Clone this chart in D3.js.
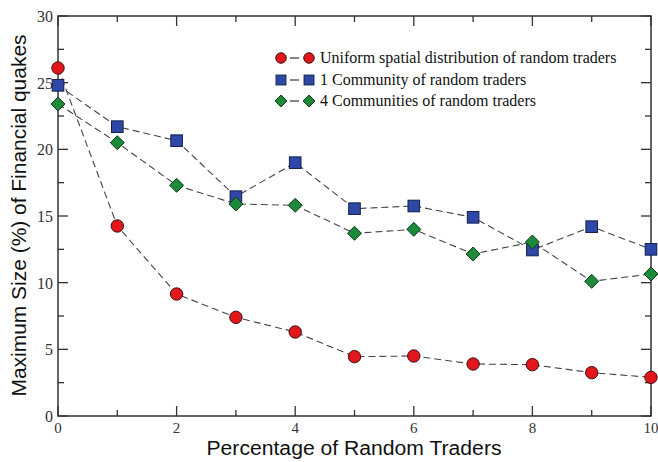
<!DOCTYPE html>
<html><head><meta charset="utf-8">
<script src="https://cdn.jsdelivr.net/npm/d3@7"></script>
<style>body{margin:0;background:#fff;}svg{display:block;}</style>
</head><body>
<script>
const xValues = [0,1,2,3,4,5,6,7,8,9,10];
const uniformValues = [26.1,14.25,9.15,7.4,6.3,4.45,4.5,3.9,3.85,3.25,2.9];
const oneCommunityValues = [24.8,21.7,20.65,16.45,19.0,15.55,15.75,14.9,12.45,14.2,12.5];
const fourCommunitiesValues = [23.4,20.5,17.3,15.9,15.8,13.7,14.0,12.15,13.05,10.1,10.65];
const seriesNames = ["Uniform spatial distribution of random traders","1 Community of random traders","4 Communities of random traders"];
const xTicks = [0,2,4,6,8,10];
const yTicks = [0,5,10,15,20,25,30];
const xTitle = "Percentage of Random Traders";
const yTitle = "Maximum Size (%) of Financial quakes";

const W=658,H=462;
const L=58,R=651,T=16,B=416;
const svg=d3.select("body").append("svg").attr("width",W).attr("height",H);
const x=d3.scaleLinear().domain([0,10]).range([L,R]);
const y=d3.scaleLinear().domain([0,30]).range([B,T]);

const axisColor="#333";
const g=svg.append("g").attr("stroke",axisColor).attr("stroke-width",1.3);
const xMinor=d3.range(0,10.01,1), yMinor=d3.range(0,30.01,2.5);
xMinor.forEach(v=>{const len=(v%2===0)?10:6;
  g.append("line").attr("x1",x(v)).attr("x2",x(v)).attr("y1",B).attr("y2",B-len);
  g.append("line").attr("x1",x(v)).attr("x2",x(v)).attr("y1",T).attr("y2",T+len);});
yMinor.forEach(v=>{const len=(v%5===0)?10:6;
  g.append("line").attr("y1",y(v)).attr("y2",y(v)).attr("x1",L).attr("x2",L+len);
  g.append("line").attr("y1",y(v)).attr("y2",y(v)).attr("x1",R).attr("x2",R-len);});
svg.append("rect").attr("x",L).attr("y",T).attr("width",R-L).attr("height",B-T)
  .attr("fill","none").attr("stroke",axisColor).attr("stroke-width",1.5);

const serif="'Liberation Serif','DejaVu Serif',serif";
svg.selectAll(".xt").data(xTicks).enter().append("text")
  .attr("x",d=>x(d)).attr("y",B+17).attr("text-anchor","middle")
  .attr("font-family",serif).attr("font-size",15).attr("fill","#333").text(d=>d);
svg.selectAll(".yt").data(yTicks).enter().append("text")
  .attr("x",L-5).attr("y",d=>y(d)+6).attr("text-anchor","end")
  .attr("font-family",serif).attr("font-size",16).attr("fill","#333").text(d=>d);

const sans="'Liberation Sans',Arial,sans-serif";
svg.append("text").attr("x",354).attr("y",455).attr("text-anchor","middle")
  .attr("font-family",sans).attr("font-size",20).attr("fill","#111")
  .attr("textLength",295).attr("lengthAdjust","spacingAndGlyphs").text(xTitle);
svg.append("text").attr("transform","translate(26,215.5) rotate(-90)").attr("text-anchor","middle")
  .attr("font-family",sans).attr("font-size",20).attr("fill","#111")
  .attr("textLength",362).attr("lengthAdjust","spacingAndGlyphs").text(yTitle);

const series=[
  {vals:uniformValues,shape:"circle",fill:"#e3161b"},
  {vals:oneCommunityValues,shape:"square",fill:"#2f48a8"},
  {vals:fourCommunitiesValues,shape:"diamond",fill:"#1d8a3a"}];

function marker(sel,shape,cx,cy,fill,s){
  if(shape==="circle") sel.append("circle").attr("cx",cx).attr("cy",cy).attr("r",6.2*s)
    .attr("fill",fill).attr("stroke","#3a1010").attr("stroke-width",1);
  else if(shape==="square") sel.append("rect").attr("x",cx-5.8*s).attr("y",cy-5.8*s)
    .attr("width",11.6*s).attr("height",11.6*s).attr("fill",fill).attr("stroke","#12204a").attr("stroke-width",1);
  else sel.append("path").attr("d",`M${cx},${cy-7*s}L${cx+7*s},${cy}L${cx},${cy+7*s}L${cx-7*s},${cy}Z`)
    .attr("fill",fill).attr("stroke","#0d3a18").attr("stroke-width",1);
}

const line=d3.line().x((d,i)=>x(xValues[i])).y(d=>y(d));
series.forEach(s=>{
  svg.append("path").attr("d",line(s.vals)).attr("fill","none")
    .attr("stroke","#444").attr("stroke-width",1.1).attr("stroke-dasharray","7,4");
});
series.forEach(s=>{
  const gm=svg.append("g");
  s.vals.forEach((v,i)=>marker(gm,s.shape,x(xValues[i]),y(v),s.fill,1));
});

const legY=[58,80,101];
series.forEach((s,i)=>{
  const lg=svg.append("g");
  lg.append("line").attr("x1",290).attr("x2",299).attr("y1",legY[i]).attr("y2",legY[i])
    .attr("stroke","#444").attr("stroke-width",1.3);
  marker(lg,s.shape,281,legY[i],s.fill,0.85);
  marker(lg,s.shape,309,legY[i],s.fill,0.85);
  lg.append("text").attr("x",320).attr("y",legY[i]+5).attr("font-family",serif)
    .attr("font-size",16).attr("fill","#111").text(seriesNames[i]);
});
</script>
</body></html>
